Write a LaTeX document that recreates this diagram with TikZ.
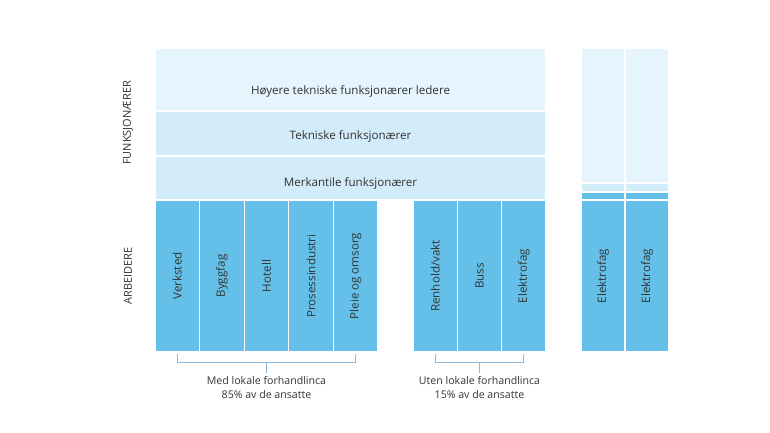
\documentclass[tikz,border=0pt]{standalone}
\usepackage{fontspec}
\setmainfont{Open Sans}
\usepackage{tikz}
\usepackage{xcolor}
\usetikzlibrary{positioning,calc}

\definecolor{palesky}{HTML}{E6F5FD}
\definecolor{lightsky}{HTML}{D3ECF9}
\definecolor{colblue}{HTML}{64C0E8}
\definecolor{bracecol}{HTML}{8DB9DA}
\definecolor{ink}{HTML}{333333}

\begin{document}
\begin{tikzpicture}[
  x=1pt, y=-1pt,
  font=\fontsize{11.6}{13}\selectfont,
  cell/.style={draw=white, line width=1.3pt, outer sep=0pt, inner sep=0pt, text=ink},
  toprow/.style={cell, fill=palesky, minimum width=391pt},
  midrow/.style={cell, fill=lightsky, minimum width=391pt},
  col/.style={cell, fill=colblue, rotate=90, minimum width=151pt, minimum height=44.6pt},
  narrow/.style={cell, minimum width=44pt},
  rowtxt/.style={text=ink, inner sep=0pt},
  side/.style={text=ink, rotate=90, font=\fontsize{11}{12}\selectfont},
  caption/.style={text=ink, align=center, font=\fontsize{10.6}{14}\selectfont, inner sep=0pt},
  brace/.style={draw=bracecol, line width=1pt}
]
  \useasboundingbox (0,0) rectangle (770,433);

  \node[toprow, minimum height=63pt] (hoyere) at (350.5,79.5) {};
  \node[midrow, minimum height=45pt] (tekniske) at (350.5,133.5) {};
  \node[midrow, minimum height=44pt] (merkantile) at (350.5,178) {};
  \node[rowtxt] (hoyeretxt) at ([yshift=-11.5pt]hoyere.center) {Høyere tekniske funksjonærer ledere};
  \node[rowtxt] (teknisketxt) at ([yshift=-2.5pt]tekniske.center) {Tekniske funksjonærer};
  \node[rowtxt] (merkantiletxt) at ([yshift=-5pt]merkantile.center) {Merkantile funksjonærer};

  \node[col] (verksted) at (177.3,276) {Verksted};
  \node[col] (byggfag) at (221.9,276) {Byggfag};
  \node[col] (hotell) at (266.5,276) {Hotell};
  \node[col] (prosess) at (311.1,276) {Prosessindustri};
  \node[col] (pleie) at (355.7,276) {Pleie og omsorg};

  \node[col] (renhold) at (435.2,276) {Renhold/vakt};
  \node[col] (buss) at (479.5,276) {Buss};
  \node[col] (elektro) at (523.8,276) {Elektrofag};

  \node[narrow, fill=palesky, minimum height=135pt] (elhoyA) at (603,115.5) {};
  \node[narrow, fill=lightsky, minimum height=9pt] (elmidA) at (603,187.5) {};
  \node[narrow, fill=colblue, minimum height=8pt] (elbndA) at (603,196) {};
  \node[col, minimum height=44pt] (elektroA) at (603,276) {Elektrofag};
  \node[narrow, fill=palesky, minimum height=135pt] (elhoyB) at (647,115.5) {};
  \node[narrow, fill=lightsky, minimum height=9pt] (elmidB) at (647,187.5) {};
  \node[narrow, fill=colblue, minimum height=8pt] (elbndB) at (647,196) {};
  \node[col, minimum height=44pt] (elektroB) at (647,276) {Elektrofag};

  \node[side] (funksjon) at (128,123) {FUNKSJONÆRER};
  \node[side] (arbeidere) at (128,276) {ARBEIDERE};

  \coordinate (medmid) at ($(verksted.west)!0.5!(pleie.west)$);
  \coordinate (utenmid) at ($(renhold.west)!0.5!(elektro.west)$);
  \node[caption, anchor=north] (medcap) at ([yshift=-25pt]medmid) {Med lokale forhandlinca\\85\% av de ansatte};
  \node[caption, anchor=north] (utencap) at ([yshift=-25pt]utenmid) {Uten lokale forhandlinca\\15\% av de ansatte};

  \draw[brace] ([yshift=-2pt]verksted.west) -- ++(0,9) -| ([yshift=-2pt]pleie.west);
  \draw[brace] ([yshift=-11pt]medmid) -- ([yshift=-21pt]medmid);
  \draw[brace] ([yshift=-2pt]renhold.west) -- ++(0,9) -| ([yshift=-2pt]elektro.west);
  \draw[brace] ([yshift=-11pt]utenmid) -- ([yshift=-21pt]utenmid);
\end{tikzpicture}
\end{document}
